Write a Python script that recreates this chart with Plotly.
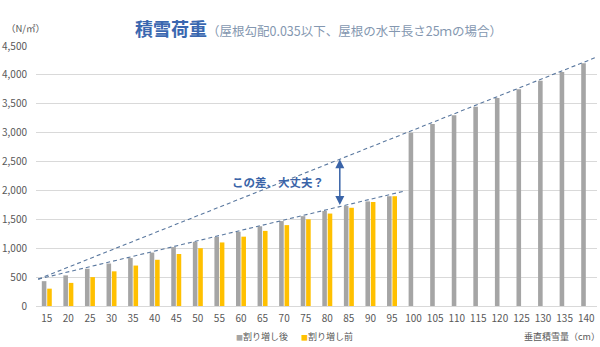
import plotly.graph_objects as go

# ---- data ----
depth_cm = [15, 20, 25, 30, 35, 40, 45, 50, 55, 60, 65, 70, 75, 80, 85, 90, 95,
            100, 105, 110, 115, 120, 125, 130, 135, 140]
after_increase = [430, 530, 645, 735, 830, 925, 1020, 1110, 1195, 1285, 1380, 1470,
                  1555, 1645, 1730, 1810, 1900,
                  3000, 3150, 3300, 3450, 3600, 3750, 3900, 4050, 4200]
before_increase = [300, 400, 500, 600, 700, 800, 900, 1000, 1100, 1200, 1300, 1400,
                   1500, 1600, 1700, 1800, 1900,
                   None, None, None, None, None, None, None, None, None]
y_ticks = [0, 500, 1000, 1500, 2000, 2500, 3000, 3500, 4000, 4500]
y_tick_labels = ["0", "500", "1,000", "1,500", "2,000", "2,500", "3,000", "3,500", "4,000", "4,500"]
series_names = ["割り増し後", "割り増し前"]

# guide lines (annotation overlays): (x, value) endpoints
upper_line = [(13.0, 465), (142.5, 4310)]
lower_line = [(13.0, 465), (97.8, 1988)]
arrow_x = 82.9

FONT = "Noto Sans CJK JP"
GRAY = "#A5A5A5"
YELLOW = "#FFC000"
LINE_COL = "#5A789F"
BLUE = "#3A64A8"
TXT = "#595959"

fig = go.Figure()
fig.add_trace(go.Bar(x=depth_cm, y=after_increase, name=series_names[0],
                     marker=dict(color=GRAY, line=dict(width=0))))
fig.add_trace(go.Bar(x=depth_cm, y=before_increase, name=series_names[1],
                     marker=dict(color=YELLOW, line=dict(width=0))))

def line_val(line, x):
    (x0, y0), (x1, y1) = line
    return y0 + (x - x0) * (y1 - y0) / (x1 - x0)

for ln in (upper_line, lower_line):
    fig.add_shape(type="line", xref="x", yref="y",
                  x0=ln[0][0], y0=ln[0][1], x1=ln[1][0], y1=ln[1][1],
                  line=dict(color=LINE_COL, width=1.1, dash="4px,3px"))

top_v = line_val(upper_line, arrow_x)
bot_v = line_val(lower_line, arrow_x)
fig.add_annotation(x=arrow_x, y=top_v, ax=arrow_x, ay=bot_v, xref="x", yref="y",
                   axref="x", ayref="y", text="", showarrow=True,
                   arrowhead=2, startarrowhead=2, arrowside="end+start",
                   arrowsize=1.2, startarrowsize=1.2, arrowwidth=1.5, arrowcolor=BLUE)

fig.add_annotation(x=68.6, y=2138, xref="x", yref="y", text="<b>この差、大丈夫？</b>",
                   showarrow=False, font=dict(family=FONT, size=11.5, color=BLUE))

# title
fig.add_annotation(x=(133 - 36) / 561, y=1 + 18 / 260, xref="paper", yref="paper",
                   xanchor="left", yanchor="middle", showarrow=False,
                   text="<b>積雪荷重</b><span style='font-size:12.5px;color:#8497B0'>（屋根勾配0.035以下、屋根の水平長さ25ｍの場合）</span>",
                   font=dict(family=FONT, size=18, color="#3A67B0"))
# unit label
fig.add_annotation(x=(4 - 36) / 561, y=1 + 18 / 260, xref="paper", yref="paper",
                   xanchor="left", yanchor="middle", showarrow=False,
                   text="（N/㎡）", font=dict(family=FONT, size=9.5, color=TXT))
# x axis title
fig.add_annotation(x=(522 - 36) / 561, y=-30 / 260, xref="paper", yref="paper",
                   xanchor="left", yanchor="middle", showarrow=False,
                   text="垂直積雪量（cm）", font=dict(family=FONT, size=9, color=TXT))

# legend (drawn as text items)
legend_items = [(series_names[0], GRAY, 262), (series_names[1], YELLOW, 327)]
for name, col, cx in legend_items:
    fig.add_annotation(x=(cx - 36) / 561, y=-30 / 260, xref="paper", yref="paper",
                       xanchor="center", yanchor="middle", showarrow=False,
                       text=f"<span style='color:{col};font-size:7px'>■</span>{name}",
                       font=dict(family=FONT, size=9, color=TXT))

fig.update_layout(
    width=600, height=347,
    margin=dict(l=36, r=3, t=46, b=41),
    paper_bgcolor="white", plot_bgcolor="white",
    font=dict(family=FONT, size=10, color=TXT),
    barmode="group", bargap=0.5, bargroupgap=0.15,
    showlegend=False,
    xaxis=dict(range=[12.5, 142.5], tickmode="array", tickvals=depth_cm,
               ticktext=[str(d) for d in depth_cm], showgrid=False,
               showline=True, linecolor="#D9D9D9", linewidth=1, ticks="",
               ticklabelstandoff=3,
               tickfont=dict(size=10, color=TXT), fixedrange=True),
    yaxis=dict(range=[0, 4500], tickmode="array", tickvals=y_ticks, ticktext=y_tick_labels,
               showgrid=True, gridcolor="#D9D9D9", gridwidth=1, zeroline=False,
               showline=False, ticks="", ticklabelstandoff=8,
               tickfont=dict(size=10, color=TXT), fixedrange=True),
)

fig.write_html("out.html")
